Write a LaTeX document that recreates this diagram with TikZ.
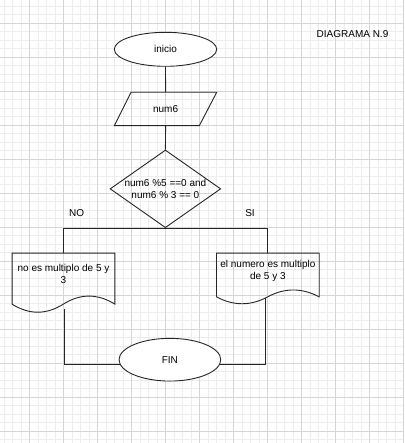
\documentclass[tikz,border=0pt]{standalone}
\usepackage{fontspec}
\setmainfont{Liberation Sans}
\usetikzlibrary{shapes.geometric,calc}
\newcommand\docpath[3]{%
  \draw[flow] (#1.north west) -- (#1.north east) -- ($(#1.south east)+(0,{#3/2})$)
    .. controls ($(#1.south west)+({5*#2/6},{-0.1*#3})$) and ($(#1.south west)+({2*#2/3},{-0.1*#3})$)
    .. ($(#1.south west)+({#2/2},{#3/2})$)
    .. controls ($(#1.south west)+({#2/3},{1.1*#3})$) and ($(#1.south west)+({#2/6},{1.1*#3})$)
    .. ($(#1.south west)+(0,{#3/2})$) -- cycle;}
\begin{document}
\begin{tikzpicture}[x=1pt,y=-1pt,
  flow/.style={draw=black!85,line width=0.9pt},
  txt/.style={font=\fontsize{10}{12.4}\selectfont,inner sep=0pt,align=center,text=black},
  term/.style={ellipse,flow,txt,fill=white},
  plain/.style={txt,draw=none},
  line/.style={flow}]
\useasboundingbox (0,0) rectangle (404,443);
\fill[white] (0,0) rectangle (404,443);
\begin{scope}
\clip (0,0) rectangle (404,443);
\foreach \i in {-4,...,44} \draw[black!7,line width=0.6pt] ({29.7+8.5*\i},0) -- ({29.7+8.5*\i},443);
\foreach \i in {-3,...,49} \draw[black!7,line width=0.6pt] (0,{23.2+8.5*\i}) -- (404,{23.2+8.5*\i});
\foreach \i in {-1,...,11} \draw[black!16,line width=0.6pt] ({29.7+34*\i},0) -- ({29.7+34*\i},443);
\foreach \i in {-1,...,12} \draw[black!16,line width=0.6pt] (0,{23.2+34*\i}) -- (404,{23.2+34*\i});
\end{scope}

\node[plain] (title) at (352.5,34.3) {DIAGRAMA N.9};
\node[term,minimum width=102.4,minimum height=34] (inicio) at (165.5,49.3) {inicio};
\node[plain,minimum width=85,minimum height=33.4] (num6) at (165.6,109) {num6};
\draw[flow] ($(num6)+(-34.6,-16.7)$) -- ($(num6)+(51.1,-16.7)$) -- ($(num6)+(33.7,16.7)$) -- ($(num6)+(-51.3,16.7)$) -- cycle;
\node[diamond,flow,inner sep=0,minimum width=110.7,minimum height=77.7,
  label={[txt]center:num6 \%5 ==0 and\\num6 \% 3 == 0}] (dec) at (165.4,188.85) {};
\node[plain,minimum width=102.4,minimum height=41.7] (nodoc) at (63.5,274.15) {no es multiplo de 5 y\\3};
\docpath{nodoc}{102.4}{17.9}
\node[plain,minimum width=102.3,minimum height=35.7] (sidoc) at (267.85,271.15) {el numero es multiplo\\de 5 y 3};
\docpath{sidoc}{102.3}{15.3}
\node[term,minimum width=101.7,minimum height=42.7] (fin) at (169.9,359.7) {FIN};
\node[plain] (no) at (76.7,213.3) {NO};
\node[plain] (si) at (250,213.3) {SI};

\coordinate (nob) at (64.3,309);
\coordinate (sib) at (265,298.3);
\draw[line] (inicio.south) -- (num6.north);
\draw[line] (num6.south) -- (dec.north);
\draw[line] (dec.south) -| (nodoc.north);
\draw[line] (dec.south) -| (sidoc.north);
\draw[line] (nob) |- (fin.185);
\draw[line] (sib) |- (fin.-5);
\end{tikzpicture}
\end{document}
